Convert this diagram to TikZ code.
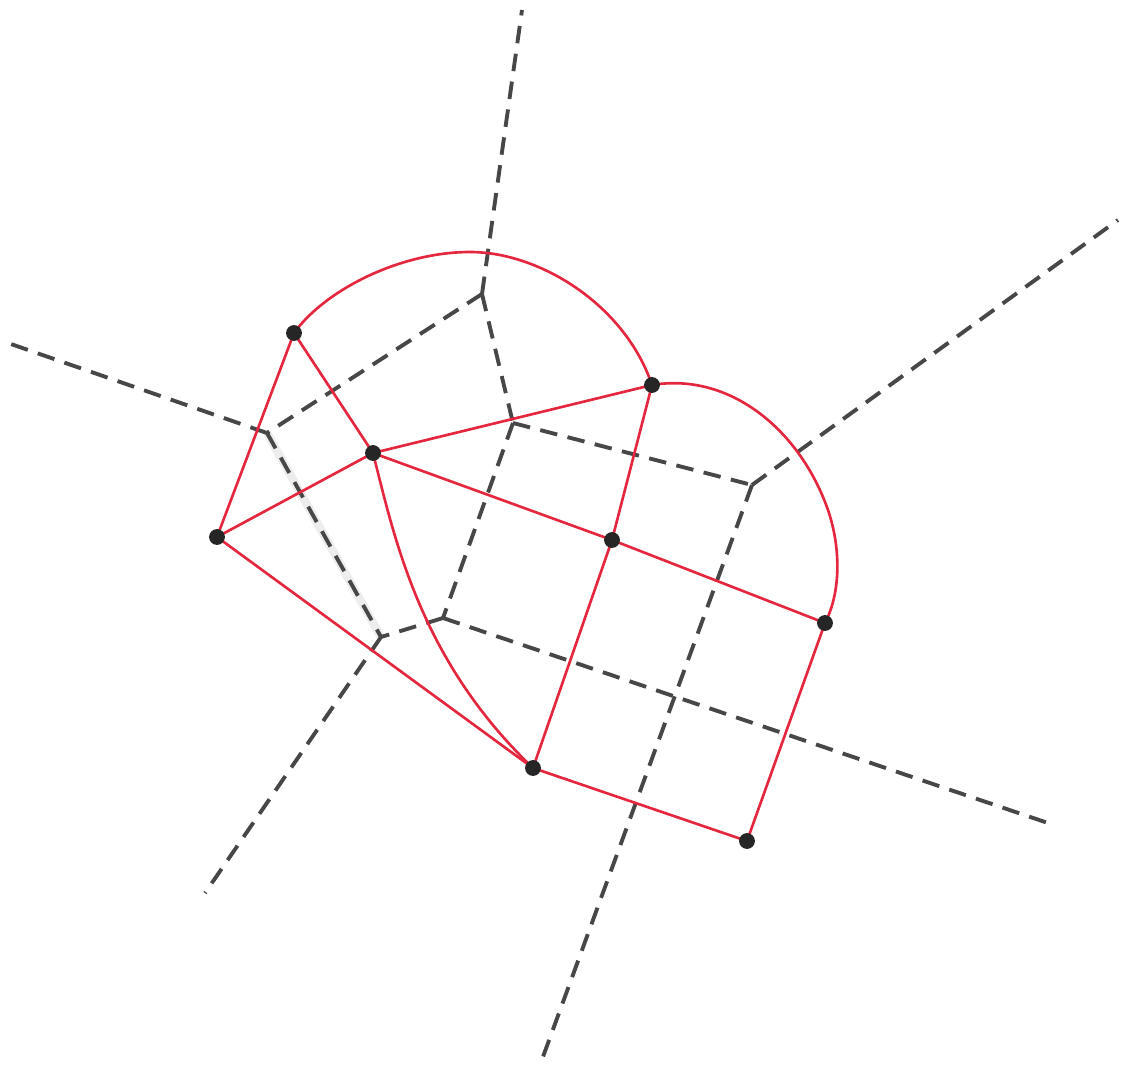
\documentclass[tikz,border=0pt]{standalone}
\begin{document}
\begin{tikzpicture}[x=0.01cm,y=-0.01cm,
  site/.style={circle,fill=black!85,inner sep=0pt,minimum size=4.5pt},
  vor/.style={draw=black!72,line width=1.1pt,dash pattern=on 5pt off 3pt},
  del/.style={draw={rgb,255:red,228;green,38;blue,62},line width=0.75pt}]
\useasboundingbox (0,0) rectangle (1132,1072);
% Voronoi vertices and far ends
\coordinate (V1) at (482,294);
\coordinate (V2) at (267,433);
\coordinate (V3) at (513,423);
\coordinate (V4) at (752,485);
\coordinate (V5) at (443,618);
\coordinate (V6) at (381,637);
\coordinate (E1) at (522,10);
\coordinate (E2) at (8,343);
\coordinate (E3) at (1118,220);
\coordinate (E4) at (540,1065);
\coordinate (E5) at (1048,823);
\coordinate (E6) at (205,893);
% Voronoi edges
\draw[black!7,line width=2.4pt] (V2) -- (V6);
\draw[vor] (V1) -- (E1);
\draw[vor] (V1) -- (V2);
\draw[vor] (V1) -- (V3);
\draw[vor] (V2) -- (E2);
\draw[vor] (V2) -- (V6);
\draw[vor] (V3) -- (V4);
\draw[vor] (V3) -- (V5);
\draw[vor] (V4) -- (E3);
\draw[vor] (V4) -- (E4);
\draw[vor] (V5) -- (V6);
\draw[vor] (V5) -- (E5);
\draw[vor] (V6) -- (E6);
% sites
\coordinate (A) at (294,333);
\coordinate (B) at (373,453);
\coordinate (C) at (217,537);
\coordinate (D) at (652,385);
\coordinate (E) at (612,540);
\coordinate (F) at (825,623);
\coordinate (G) at (533,768);
\coordinate (H) at (747,841);
% Delaunay edges
\draw[del] (A) -- (B);
\draw[del] (A) -- (C);
\draw[del] (C) -- (B);
\draw[del] (B) -- (D);
\draw[del] (C) -- (G);
\draw[del] (B) -- (E);
\draw[del] (E) -- (F);
\draw[del] (D) -- (E);
\draw[del] (E) -- (G);
\draw[del] (G) -- (H);
\draw[del] (H) -- (F);
\draw[del] (A) .. controls (325,290) and (400,252) .. (470,252)
               .. controls (540,252) and (625,305) .. (D);
\draw[del] (D) .. controls (730,372) and (800,430) .. (828,510)
               .. controls (840,545) and (842,590) .. (F);
\draw[del] (B) .. controls (395,540) and (420,660) .. (G);
% site dots
\foreach \p in {A,B,C,D,E,F,G,H} \node[site] (n\p) at (\p) {};
\end{tikzpicture}
\end{document}
